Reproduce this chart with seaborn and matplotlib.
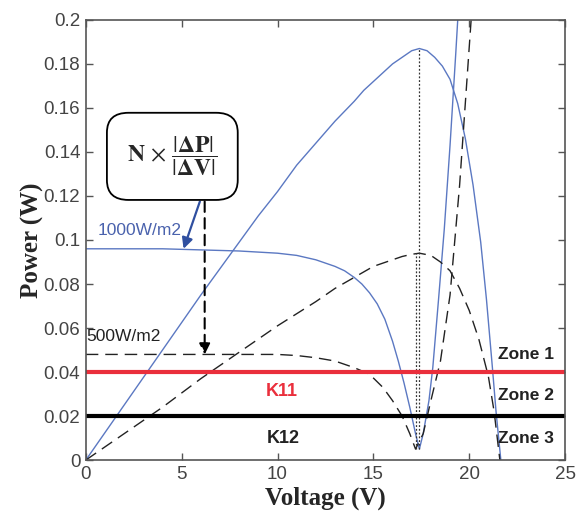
import matplotlib
matplotlib.use('Agg')
import matplotlib.pyplot as plt
from matplotlib.patches import FancyBboxPatch
import numpy as np
import seaborn as sns

# P-V curve, 1000 W/m2 (blue solid)
V_pv1000 = [0, 1, 2, 3, 4, 5, 6, 7, 8, 9, 10, 11, 12, 13, 14, 14.5, 15, 15.5, 16, 16.5, 17, 17.4,
            17.8, 18.2, 18.6, 19, 19.4, 19.8, 20.2, 20.6, 20.9, 21.2, 21.4, 21.65]
P_pv1000 = [0, 0.0125, 0.025, 0.0375, 0.05, 0.0625, 0.075, 0.087, 0.099, 0.111, 0.122, 0.134, 0.144,
            0.154, 0.163, 0.168, 0.172, 0.176, 0.180, 0.183, 0.186, 0.187,
            0.186, 0.183, 0.179, 0.173, 0.162, 0.146, 0.125, 0.099, 0.073, 0.043, 0.022, 0.0]

# P-V curve, 500 W/m2 (black dashed)
V_pv500 = [0, 2, 4, 6, 8, 10, 12, 13, 14, 15, 16, 16.5, 17, 17.4, 18, 18.5, 19, 19.5, 20, 20.5, 21, 21.3, 21.6]
P_pv500 = [0, 0.012, 0.024, 0.037, 0.049, 0.061, 0.072, 0.078, 0.083, 0.088, 0.091, 0.0925, 0.0935, 0.094,
           0.093, 0.090, 0.086, 0.078, 0.068, 0.055, 0.038, 0.022, 0.0]

# N x |dP|/|dV| , 1000 W/m2
V_d1000 = [0, 2, 4, 6, 8, 9, 10, 11, 12, 12.5, 13, 13.5, 14, 14.4, 14.8, 15.2, 15.6, 16, 16.3, 16.6,
           16.9, 17.2, 17.4, 17.6, 17.9, 18.1, 18.4, 18.7, 19.0, 19.3, 19.55]
P_d1000 = [0.096, 0.096, 0.096, 0.0955, 0.095, 0.0945, 0.094, 0.093, 0.091, 0.0895, 0.088, 0.086, 0.083,
           0.080, 0.076, 0.071, 0.064, 0.054, 0.045, 0.035, 0.024, 0.012, 0.005, 0.012, 0.027, 0.042,
           0.073, 0.105, 0.143, 0.185, 0.222]

# N x |dP|/|dV| , 500 W/m2
V_d500 = [0, 4, 8, 10, 11, 12, 13, 14, 14.8, 15.5, 16, 16.5, 16.9, 17.2, 17.6, 18.0, 18.5, 19.0, 19.5, 20.1, 20.25]
P_d500 = [0.048, 0.048, 0.048, 0.048, 0.0475, 0.0465, 0.045, 0.042, 0.039, 0.033, 0.027, 0.020, 0.012, 0.005,
          0.012, 0.027, 0.045, 0.075, 0.125, 0.2, 0.222]

# MPP markers (dotted verticals)
V_mpp = [17.4, 17.2]
P_mpp_top = [0.187, 0.094]
P_mpp_bot = [0.005, 0.005]

K11 = 0.04
K12 = 0.02

zone_names = ['Zone 1', 'Zone 2', 'Zone 3']
zone_y = [0.048, 0.0295, 0.010]

x_ticks = [0, 5, 10, 15, 20, 25]
y_ticks = [0, 0.02, 0.04, 0.06, 0.08, 0.1, 0.12, 0.14, 0.16, 0.18, 0.2]

blue = '#5b78c2'
blue_txt = '#4a62ad'
red = '#ea2f3c'

sns.set_theme(style='ticks')
plt.rcParams['font.family'] = ['Liberation Sans', 'DejaVu Sans']
plt.rcParams['mathtext.fontset'] = 'stix'

fig = plt.figure(figsize=(5.76, 5.24), dpi=100)
ax = fig.add_axes([0.149, 0.122, 0.832, 0.840])

dash = (0, (9, 5))
sns.lineplot(x=V_pv1000, y=P_pv1000, ax=ax, color=blue, lw=1.0, sort=False)
sns.lineplot(x=V_d1000, y=P_d1000, ax=ax, color=blue, lw=1.0, sort=False)
sns.lineplot(x=V_pv500, y=P_pv500, ax=ax, color='#222222', lw=1.0, linestyle=dash, sort=False)
sns.lineplot(x=V_d500, y=P_d500, ax=ax, color='#222222', lw=1.0, linestyle=dash, sort=False)
ax.vlines(V_mpp, P_mpp_bot, P_mpp_top, colors='#333333', linestyles=(0, (1.5, 1.5)), lw=0.9)

ax.axhline(K11, color=red, lw=3)
ax.axhline(K12, color='black', lw=3)

# annotations
ax.text(0.6, 0.1045, '1000W/m2', color=blue_txt, fontsize=12.5, va='center')
ax.text(0.05, 0.056, '500W/m2', color='#222222', fontsize=12.5, va='center')
ax.text(10.2, 0.031, 'K11', color=red, fontsize=13, fontweight='bold', ha='center', va='center')
ax.text(10.3, 0.010, 'K12', color='#222222', fontsize=13, fontweight='bold', ha='center', va='center')
for name, zy in zip(zone_names, zone_y):
    ax.text(22.95, zy, name, color='#222222', fontsize=12.5, fontweight='bold', ha='center', va='center')

# rounded formula box (axes fraction)
box = FancyBboxPatch((0.044, 0.591), 0.273, 0.198, boxstyle='round,pad=0,rounding_size=0.045',
                     transform=ax.transAxes, fc='white', ec='black', lw=1.3, zorder=5)
ax.add_patch(box)
ax.text(0.044 + 0.273 / 2, 0.591 + 0.198 / 2,
        r'$\mathbf{N}\,\times\,\dfrac{|\mathbf{\Delta P}|}{|\mathbf{\Delta V}|}$',
        transform=ax.transAxes, ha='center', va='center', fontsize=17, zorder=6)

blue_arrow_from = (5.95, 0.1175)
blue_arrow_to = (5.1, 0.096)
ax.annotate('', xy=blue_arrow_to, xytext=blue_arrow_from,
            arrowprops=dict(arrowstyle='-|>', color='#2f4fa0', lw=1.6, mutation_scale=16, shrinkA=0, shrinkB=0))
black_arrow_from = (6.2, 0.1175)
black_arrow_to = (6.2, 0.048)
ax.annotate('', xy=black_arrow_to, xytext=black_arrow_from,
            arrowprops=dict(arrowstyle='-|>', color='black', lw=1.5, linestyle=(0, (5, 3)),
                            mutation_scale=16, shrinkA=0, shrinkB=0))

ax.set_xlim(0, 25)
ax.set_ylim(0, 0.2)
ax.set_xticks(x_ticks)
ax.set_xticklabels([str(t) for t in x_ticks])
ax.set_yticks(y_ticks)
ax.set_yticklabels(['%g' % t for t in y_ticks])
ax.tick_params(direction='in', top=True, right=True, length=5, width=1, color='#555555',
               labelsize=13.5, labelcolor='#444444', pad=4)
for s in ax.spines.values():
    s.set_color('#555555')
    s.set_linewidth(1.2)

ax.set_xlabel('Voltage (V)', fontfamily='Liberation Serif', fontweight='bold', fontsize=18, labelpad=3)
ax.set_ylabel('Power (W)', fontfamily='Liberation Serif', fontweight='bold', fontsize=18, labelpad=0)

fig.savefig('out.png', dpi=100)
